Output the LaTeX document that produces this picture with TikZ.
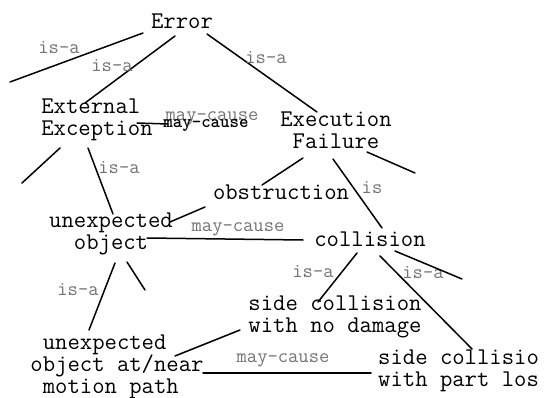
\documentclass[tikz,border=0pt]{standalone}
\usepackage{fontspec}
\tikzset{
    concept/.style={inner sep=0pt, font=\ttfamily\fontsize{24}{22}\selectfont},
    rel/.style={inner sep=0pt, text=black!55, font=\ttfamily\fontsize{20}{20}\selectfont},
    link/.style={line width=1.5pt, line cap=round}
}
\begin{document}
\begin{tikzpicture}[x=1pt, y=-1pt]
    \useasboundingbox (0,0) rectangle (545,398);
    % Concepts
    \node[concept] (err) at (182,21) {Error};
    \node[concept, align=left] (ext) at (97,120) {External\\Exception};
    \node[concept, align=center] (exe) at (336,130) {Execution\\Failure};
    \node[concept] (obs) at (281,192) {obstruction};
    \node[concept, align=center] (uo) at (111,234) {unexpected\\object};
    \node[concept] (col) at (370,239) {collision};
    \node[concept, align=center] (scnd) at (335,317) {side collision\\with no damage};
    \node[concept, align=left] (uoamp) at (117,367) {\ unexpected\\object at/near\\\ motion path};
    \node[concept, align=left, anchor=west] (scpl) at (378,371) {side collisio\\with part los};
    % Loose ends
    \coordinate (d1) at (10,82);
    \coordinate (d2) at (22,183);
    \coordinate (d3) at (415,173);
    \coordinate (d4) at (145,290);
    \coordinate (d5) at (462,279);
    \coordinate (mc) at (168,124);
    % Links
    \draw[link] (d1) -- ([shift={(-39,12)}]err.center);
    \node[rel] (l1) at (59,48) {is-a};
    \draw[link] ([shift={(-12,-17)}]ext.center) -- ([shift={(-7,15)}]err.center);
    \node[rel] (l2) at (112,66) {is-a};
    \draw[link] ([shift={(25,13)}]err.center) -- ([shift={(-19,-18)}]exe.center);
    \node[rel] (l3) at (266,58) {is-a};
    \draw[link] ([shift={(40,3)}]ext.center) -- (mc);
    \node[rel] (l4) at (212,118) {may-cause};
    \node[inner sep=0pt, font=\ttfamily\bfseries\fontsize{18}{18}\selectfont] (l4b) at (206,126) {may-cause};
    \draw[link] ([shift={(-37,28)}]ext.center) -- (d2);
    \draw[link] ([shift={(-9,28)}]ext.center) -- ([shift={(2,-20)}]uo.center);
    \node[rel] (l5) at (119,168) {is-a};
    \draw[link] ([shift={(31,22)}]exe.center) -- (d3);
    \draw[link] ([shift={(-33,28)}]exe.center) -- ([shift={(-19,-7)}]obs.center);
    \draw[link] ([shift={(-3,29)}]exe.center) -- ([shift={(12,-11)}]col.center);
    \node[rel] (l6) at (372,188) {is};
    \draw[link] ([shift={(-76,15)}]obs.center) -- ([shift={(59,-12)}]uo.center);
    \draw[link] ([shift={(36,4)}]uo.center) -- ([shift={(-67,1)}]col.center);
    \node[rel] (l7) at (238,229) {may-cause};
    \draw[link] ([shift={(16,28)}]uo.center) -- (d4);
    \draw[link] ([shift={(4,29)}]uo.center) -- ([shift={(-28,-37)}]uoamp.center);
    \node[rel] (l8) at (78,290) {is-a};
    \draw[link] ([shift={(58,-11)}]uoamp.center) -- ([shift={(-95,13)}]scnd.center);
    \draw[link] ([shift={(86,6)}]uoamp.center) -- ([shift={(-7,2)}]scpl.west);
    \node[rel] (l9) at (283,360) {may-cause};
    \draw[link] ([shift={(-13,14)}]col.center) -- ([shift={(-17,-15)}]scnd.center);
    \node[rel] (l10) at (313,272) {is-a};
    \draw[link] ([shift={(10,17)}]col.center) -- ([shift={(94,-22)}]scpl.west);
    \node[rel] (l11) at (423,273) {is-a};
    \draw[link] ([shift={(25,12)}]col.center) -- (d5);
\end{tikzpicture}
\end{document}
